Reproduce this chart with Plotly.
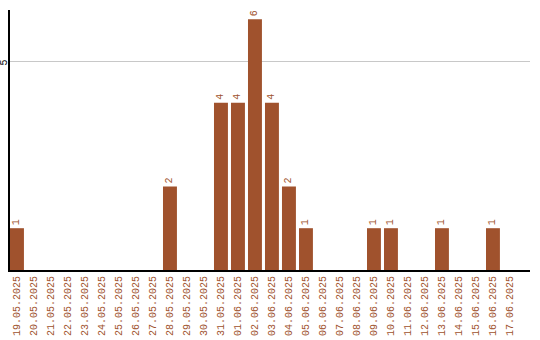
import plotly.graph_objects as go

dates = ["19.05.2025", "20.05.2025", "21.05.2025", "22.05.2025", "23.05.2025",
         "24.05.2025", "25.05.2025", "26.05.2025", "27.05.2025", "28.05.2025",
         "29.05.2025", "30.05.2025", "31.05.2025", "01.06.2025", "02.06.2025",
         "03.06.2025", "04.06.2025", "05.06.2025", "06.06.2025", "07.06.2025",
         "08.06.2025", "09.06.2025", "10.06.2025", "11.06.2025", "12.06.2025",
         "13.06.2025", "14.06.2025", "15.06.2025", "16.06.2025", "17.06.2025"]
counts = [1, 0, 0, 0, 0, 0, 0, 0, 0, 2,
          0, 0, 4, 4, 6, 4, 2, 1, 0, 0,
          0, 1, 1, 0, 0, 1, 0, 0, 1, 0]
y_ticks = [5]

color = "#A0522D"
labels = [str(v) if v > 0 else "" for v in counts]
FONT = "Liberation Mono"

fig = go.Figure(go.Bar(
    x=dates, y=counts, marker=dict(color=color, line=dict(width=0)),
    text=labels, textposition="outside", textangle=-90, cliponaxis=False,
    textfont=dict(family=FONT, size=10, color=color),
))
fig.update_layout(
    width=540, height=340, margin=dict(l=10, r=10, t=10, b=70),
    paper_bgcolor="white", plot_bgcolor="white", showlegend=False,
    bargap=0.18,
    font=dict(family=FONT, size=10),
)
fig.update_xaxes(type="category", range=[-0.41, 30.18], tickangle=-90,
                 tickfont=dict(color=color, size=10, family=FONT),
                 showline=True, linecolor="black", linewidth=2,
                 showgrid=False, ticks="", ticklen=0, automargin=False)
fig.update_yaxes(range=[0, 6.22], tickvals=y_ticks, tickangle=-90,
                 tickfont=dict(color="black", size=10, family=FONT),
                 showline=True, linecolor="black", linewidth=2,
                 showgrid=True, gridcolor="#c8c8c8", gridwidth=1,
                 zeroline=False, ticks="", automargin=False,
                 ticklabelstandoff=-3, ticklabelshift=3)
fig.write_html("out.html")
